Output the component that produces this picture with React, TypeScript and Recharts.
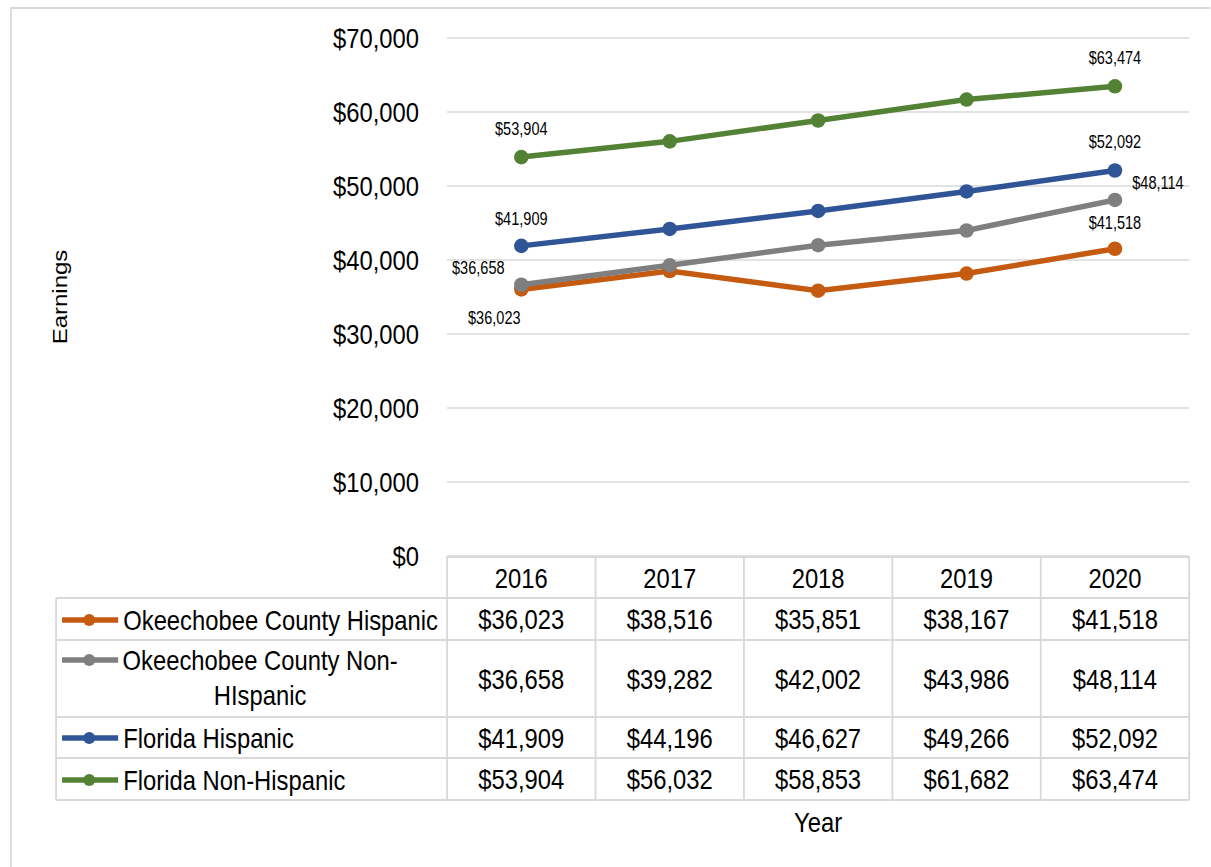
import React from 'react';
import { LineChart, Line, XAxis, YAxis, CartesianGrid, Legend, LabelList } from 'recharts';

// ---------- data ----------
const YEARS = ['2016', '2017', '2018', '2019', '2020'];
const OKEECHOBEE_HISPANIC = [36023, 38516, 35851, 38167, 41518];
const OKEECHOBEE_NON_HISPANIC = [36658, 39282, 42002, 43986, 48114];
const FLORIDA_HISPANIC = [41909, 44196, 46627, 49266, 52092];
const FLORIDA_NON_HISPANIC = [53904, 56032, 58853, 61682, 63474];
const Y_TICKS = [0, 10000, 20000, 30000, 40000, 50000, 60000, 70000];

const SERIES = [
  { key: 'okh', name: 'Okeechobee County Hispanic', color: '#C55A11', values: OKEECHOBEE_HISPANIC },
  { key: 'oknh', name: 'Okeechobee County Non-HIspanic', color: '#7F7F7F', values: OKEECHOBEE_NON_HISPANIC },
  { key: 'flh', name: 'Florida Hispanic', color: '#2F5597', values: FLORIDA_HISPANIC },
  { key: 'flnh', name: 'Florida Non-Hispanic', color: '#548235', values: FLORIDA_NON_HISPANIC },
];

const data = YEARS.map((year, i) => {
  const row: any = { year };
  SERIES.forEach((s) => (row[s.key] = s.values[i]));
  return row;
});

// ---------- layout / style ----------
const S = 0.85; // horizontal squeeze of the whole picture
const CW = 1424;
const CH = 867;
const PLOT_L = 526;
const PLOT_R = 1399;
const PLOT_T = 38;
const PLOT_B = 556;
const BW = (PLOT_R - PLOT_L) / 5;
const FONT = "'Liberation Sans', Arial, Helvetica, sans-serif";
const GRID = '#d9d9d9';
const TXT = '#000000';
const DOT_R = 7.3;
const LINE_W = 5.5;

// table rows relative to plot bottom
const ROW_LINES = [1, 42, 84, 161, 202, 244];
const HEADER_CY = 21.5;
const ROW_CY = [63, 122.5, 181.5, 223];
const LEG_MARK_CY = [64, 104, 182, 224];
const LEG_L = 66;

// data label offsets (screen px) per series and point index
const LABEL_POS: Record<string, Record<number, [number, number]>> = {
  okh: { 0: [-27, 28], 4: [0, -27] },
  oknh: { 0: [-43, -18], 4: [43, -18] },
  flh: { 0: [0, -28], 4: [0, -29] },
  flnh: { 0: [0, -29], 4: [0, -29] },
};

const fmt = (v: number) => '$' + Number(v).toLocaleString('en-US');

const makeDot = (color: string) => (props: any) => {
  const { cx, cy, index } = props;
  if (cx == null || cy == null) return <g key={`d-${index}`} />;
  return <ellipse key={`d-${index}`} cx={cx} cy={cy} rx={DOT_R / S} ry={DOT_R} fill={color} />;
};

const makeLabel = (key: string) => (props: any) => {
  const { index, value } = props;
  const pos = LABEL_POS[key][index];
  if (!pos) return null;
  const vb = props.viewBox || {};
  const x = props.x ?? vb.x;
  const y = props.y ?? vb.y;
  const tx = x + pos[0] / S;
  const ty = y + pos[1];
  return (
    <text
      key={`l-${key}-${index}`}
      transform={`translate(${tx} ${ty}) scale(0.9 1)`}
      x={0}
      y={0}
      dy="0.36em"
      textAnchor="middle"
      fontSize={19}
      fontFamily={FONT}
      fill={TXT}
    >
      {fmt(value)}
    </text>
  );
};

const TableTick = (props: any) => {
  const { x, y, payload } = props;
  const i = payload.index;
  const left = x - BW / 2;
  const right = x + BW / 2;
  const bottom = y + ROW_LINES[ROW_LINES.length - 1];
  return (
    <g>
      {ROW_LINES.map((r, k) => (
        <line key={`h${k}`} x1={left} x2={right} y1={y + r} y2={y + r} stroke={GRID} strokeWidth={2} />
      ))}
      {i === 0 && <line x1={left} x2={left} y1={y} y2={bottom} stroke={GRID} strokeWidth={2.2} />}
      <line x1={right} x2={right} y1={y} y2={bottom} stroke={GRID} strokeWidth={2.2} />
      <text x={x} y={y + HEADER_CY} dy="0.36em" textAnchor="middle" fontSize={28} fontFamily={FONT} fill={TXT}>
        {payload.value}
      </text>
      {SERIES.map((s, k) => (
        <text
          key={s.key}
          x={x}
          y={y + ROW_CY[k]}
          dy="0.36em"
          textAnchor="middle"
          fontSize={28}
          fontFamily={FONT}
          fill={TXT}
        >
          {fmt(s.values[i])}
        </text>
      ))}
    </g>
  );
};

const wrapName = (name: string, max: number) => {
  if (name.length <= max) return [name];
  const cut = name.slice(0, max);
  let idx = Math.max(cut.lastIndexOf('-'), cut.lastIndexOf(' '));
  if (idx < 0) idx = max - 1;
  return [name.slice(0, idx + 1).trim(), name.slice(idx + 1).trim()];
};

const LegendTable = () => {
  const top = PLOT_B;
  return (
    <svg width={CW} height={CH} style={{ display: 'block', pointerEvents: 'none' }}>
      <rect x={13} y={8} width={CW + 100} height={CH + 100} fill="none" stroke={GRID} strokeWidth={2} />
      <line x1={LEG_L} x2={LEG_L} y1={top + ROW_LINES[1]} y2={top + ROW_LINES[5]} stroke={GRID} strokeWidth={2.2} />
      {ROW_LINES.slice(1).map((r, k) => (
        <line key={k} x1={LEG_L} x2={PLOT_L} y1={top + r} y2={top + r} stroke={GRID} strokeWidth={2} />
      ))}
      {SERIES.map((s, k) => {
        const my = top + LEG_MARK_CY[k];
        const lines = wrapName(s.name, 26);
        return (
          <g key={s.key}>
            <line x1={73} x2={139} y1={my} y2={my} stroke={s.color} strokeWidth={5.5} />
            <ellipse cx={105} cy={my} rx={6 / S} ry={6} fill={s.color} />
            {lines.length === 1 ? (
              <text x={145} y={my} dy="0.36em" fontSize={28} fontFamily={FONT} fill={TXT}>
                {lines[0]}
              </text>
            ) : (
              lines.map((ln, j) => (
                <text
                  key={j}
                  x={306}
                  y={my + j * 35}
                  dy="0.36em"
                  textAnchor="middle"
                  fontSize={28}
                  fontFamily={FONT}
                  fill={TXT}
                >
                  {ln}
                </text>
              ))
            )}
          </g>
        );
      })}
    </svg>
  );
};

const EarningsLabel = (props: any) => {
  const vb = props.viewBox || { x: 0, y: PLOT_T, height: PLOT_B - PLOT_T };
  const cx = (vb.x || 0) + 79;
  const cy = vb.y + vb.height / 2;
  return (
    <text
      x={cx}
      y={cy}
      transform={`rotate(-90 ${cx} ${cy})`}
      textAnchor="middle"
      fontSize={24}
      fontFamily={FONT}
      fill={TXT}
    >
      Earnings
    </text>
  );
};

export default function App() {
  return (
    <div
      style={{
        position: 'absolute',
        left: 0,
        top: 0,
        width: CW,
        height: CH,
        background: '#ffffff',
        transform: `scaleX(${S})`,
        transformOrigin: '0 0',
        fontFamily: FONT,
      }}
    >
      <LineChart width={CW} height={CH} data={data} margin={{ top: PLOT_T, right: CW - PLOT_R, bottom: 0, left: 0 }}>
        <CartesianGrid vertical={false} stroke={GRID} strokeWidth={1.6} />
        <XAxis
          dataKey="year"
          height={CH - PLOT_B}
          axisLine={false}
          tickLine={false}
          tickSize={0}
          tickMargin={0}
          interval={0}
          padding={{ left: BW / 2, right: BW / 2 }}
          tick={<TableTick />}
          label={{ value: 'Year', position: 'insideBottom', offset: 35, fill: TXT, fontSize: 28, fontFamily: FONT }}
        />
        <YAxis
          width={PLOT_L}
          domain={[0, 70000]}
          ticks={Y_TICKS}
          interval={0}
          axisLine={false}
          tickLine={false}
          tickSize={0}
          tickMargin={PLOT_L - 493}
          tickFormatter={(v: number) => fmt(v)}
          tick={{ fontSize: 28, fill: TXT, fontFamily: FONT }}
          label={<EarningsLabel />}
        />
        <Legend
          verticalAlign="middle"
          align="center"
          layout="horizontal"
          wrapperStyle={{ position: 'absolute', left: 0, top: 0, width: CW, height: CH, pointerEvents: 'none' }}
          content={<LegendTable />}
        />
        {SERIES.map((s) => (
          <Line
            key={s.key}
            dataKey={s.key}
            name={s.name}
            stroke={s.color}
            strokeWidth={LINE_W}
            dot={makeDot(s.color)}
            activeDot={false}
            isAnimationActive={false}
          >
            <LabelList dataKey={s.key} content={makeLabel(s.key)} />
          </Line>
        ))}
      </LineChart>
    </div>
  );
}
